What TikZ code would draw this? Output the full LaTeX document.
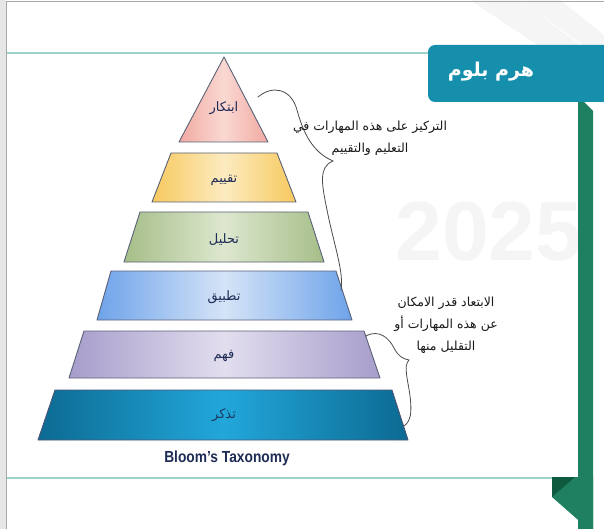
\documentclass[tikz,border=0pt]{standalone}
\usepackage{fontspec}
\usepackage{graphicx}
\TeXXeTstate=1
\setmainfont{Liberation Sans}
\newfontfamily\arabicfont[Script=Arabic]{DejaVu Sans}
\usetikzlibrary{calc}

\definecolor{framegray}{HTML}{A8A8A8}
\definecolor{stripgray}{HTML}{E6E6E6}
\definecolor{ruleteal}{HTML}{9ED2CB}
\definecolor{titleteal}{HTML}{168FAD}
\definecolor{bargreen}{HTML}{1E8060}
\definecolor{folddark}{HTML}{0E5A3E}
\definecolor{edgegray}{HTML}{5A6278}
\definecolor{navy}{HTML}{1E2B55}
\definecolor{wmgray}{HTML}{F5F5F5}
\definecolor{bracegray}{HTML}{4A4A4A}
% tier fills: edge colour and centre highlight
\definecolor{pinkE}{HTML}{F0AAA2}\definecolor{pinkC}{HTML}{FAD8D2}
\definecolor{yelE}{HTML}{F7C95E}\definecolor{yelC}{HTML}{FCEBC0}
\definecolor{grnE}{HTML}{A6BE89}\definecolor{grnC}{HTML}{DDE7CE}
\definecolor{bluE}{HTML}{6EA3EA}\definecolor{bluC}{HTML}{D5E4F7}
\definecolor{purE}{HTML}{A69DCB}\definecolor{purC}{HTML}{E2DEEE}
\definecolor{dbE}{HTML}{0C6A92}\definecolor{dbC}{HTML}{22A7DA}

\tikzset{
  tier/.style={draw=edgegray, line width=0.9pt, line join=round},
  tierlabel/.style={font=\arabicfont\fontsize{13}{15}\selectfont, text=navy, inner sep=0pt},
  note/.style={font=\arabicfont\fontsize{12.5}{22}\selectfont, text=black!90, align=center, inner sep=0pt},
  brace/.style={draw=bracegray, line width=0.8pt, line cap=round},
  rule/.style={draw=ruleteal, line width=1.6pt}
}

\begin{document}
\begin{tikzpicture}[x=1pt,y=-1pt]
\useasboundingbox (0,0) rectangle (604,529);
\fill[white] (0,0) rectangle (604,529);

% faint background watermark
\node[font=\bfseries\fontsize{84}{84}\selectfont, text=wmgray, anchor=west] (wm) at (392,232) {2025};
\fill[wmgray] (470,0) -- (520,0) -- (600,60) -- (560,60) -- cycle;
\fill[wmgray] (520,0) -- (560,0) -- (604,35) -- (604,60) -- cycle;

% slide frame
\fill[stripgray] (0,0) rectangle (6,529);
\draw[framegray, line width=1pt] (6.5,529) -- (6.5,1.5) -- (604,1.5);

% header and footer rules
\draw[rule] (7,53) -- (430,53);
\draw[rule] (7,478) -- (578,478);
\draw[ruleteal, line width=0.6pt] (578,102) -- (578,478);

% green side ribbon with folded end
\fill[bargreen] (578,102) -- (584,102) -- (593,111) -- (593,540) -- (578,540) -- cycle;
\fill[bargreen] (552,477) -- (593,477) -- (593,533) -- (552,497) -- cycle;
\fill[folddark] (552,477) -- (575,477) -- (552,497) -- cycle;

% title tab
\fill[titleteal, rounded corners=7pt] (428,102) -- (428,45) -- (620,45) -- (620,102) -- cycle;
\node[font=\arabicfont\bfseries\fontsize{19}{21}\selectfont, text=white] (title) at (491,72) {\beginR هرم بلوم\endR};

% pyramid tiers, top to bottom
\path[tier, left color=pinkE, right color=pinkE, middle color=pinkC]
  (224,57) -- (268,142) -- (179,142) -- cycle;
\path[tier, left color=yelE, right color=yelE, middle color=yelC]
  (171,153) -- (277,153) -- (296,202) -- (152,202) -- cycle;
\path[tier, left color=grnE, right color=grnE, middle color=grnC]
  (140,212) -- (308,212) -- (324,262) -- (124,262) -- cycle;
\path[tier, left color=bluE, right color=bluE, middle color=bluC]
  (111,271) -- (336,271) -- (352,320) -- (97,320) -- cycle;
\path[tier, left color=purE, right color=purE, middle color=purC]
  (84,331) -- (364,331) -- (380,378) -- (69,378) -- cycle;
\path[tier, draw=navy!80, left color=dbE, right color=dbE, middle color=dbC]
  (55,390) -- (392,390) -- (408,440) -- (38,440) -- cycle;

\node[tierlabel] (t1) at (224,108) {\beginR ابتكار\endR};
\node[tierlabel] (t2) at (224,180) {\beginR تقييم\endR};
\node[tierlabel] (t3) at (224,240) {\beginR تحليل\endR};
\node[tierlabel] (t4) at (224,297) {\beginR تطبيق\endR};
\node[tierlabel] (t5) at (224,356) {\beginR فهم\endR};
\node[tierlabel, text=navy!80!dbE] (t6) at (224,415) {\beginR تذكر\endR};

\node[font=\bfseries\fontsize{16}{18}\selectfont, text=navy] (cap) at (227,458)
  {\scalebox{0.86}[1]{Bloom’s Taxonomy}};

% brace over the upper skills
\coordinate (ua) at (258,97);
\coordinate (ut) at (333,161);
\coordinate (ub) at (341,290);
\draw[brace] (ua) .. controls (272,85) and (291,88) .. (297,110)
  .. controls (303,132) and (312,152) .. (ut)
  .. controls (318,167) and (322,185) .. (327,210)
  .. controls (334,245) and (344,272) .. (ub);
\node[note] (upper) at (370,138) {\beginR التركيز على هذه المهارات في\endR\\ \beginR التعليم والتقييم\endR};

% brace over the lower skills
\coordinate (la) at (366,336);
\coordinate (lt) at (409,360);
\coordinate (lb) at (404,426);
\draw[brace] (la) .. controls (379,329) and (389,338) .. (394,348)
  .. controls (398,356) and (403,359) .. (lt)
  .. controls (403,366) and (408,380) .. (410,396)
  .. controls (412,412) and (411,421) .. (lb);
\node[note] (lower) at (446,325) {\beginR الابتعاد قدر الامكان\endR\\ \beginR عن هذه المهارات أو\endR\\ \beginR التقليل منها\endR};
\end{tikzpicture}
\end{document}
